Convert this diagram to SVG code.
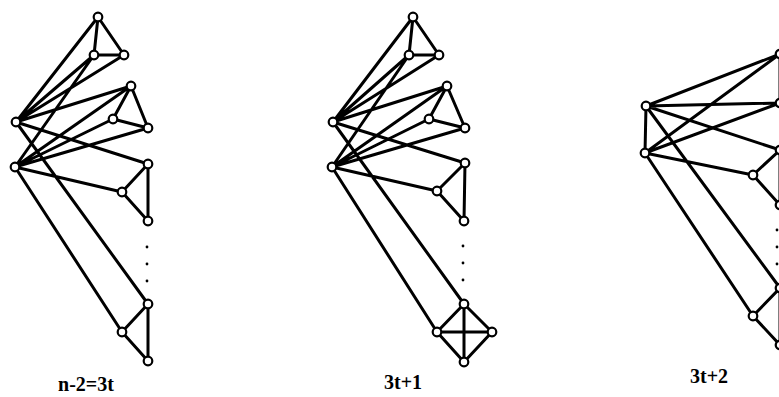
<svg xmlns="http://www.w3.org/2000/svg" width="779" height="397" viewBox="0 0 779 397">
<style>
.e{stroke:#000;stroke-width:3;fill:none;stroke-linecap:round}
.n{fill:#fff;stroke:#000;stroke-width:2.2}
.d{fill:#000}
.t{font-family:"Liberation Serif","Times New Roman",serif;font-size:20px;font-weight:bold;fill:#000;text-anchor:middle}
</style>
<rect width="779" height="397" fill="#fff"/>
<g id="connectors">
<path class="e" d="M98,17L94,55M98,17L124,55M94,55L124,55
M131,86L113,119M131,86L148,128M113,119L148,128
M148,164L122,192M148,164L148,221M122,192L148,221
M148,304L122,332M148,304L148,361M122,332L148,361
M16,122L98,17M16,122L94,55M16,122L124,55M16,122L131,86M16,122L148,164M16,122L148,304
M15,167L94,55M15,167L131,86M15,167L113,119M15,167L148,128M15,167L122,192M15,167L122,332"/>
<path class="e" d="M413,17L409,55M413,17L439,55M409,55L439,55
M447,86L429,119M447,86L465,128M429,119L465,128
M465,163L437,191M465,163L464,221M437,191L464,221
M464,304L437,332M464,304L492,332M464,304L464,362M437,332L492,332M437,332L464,362M492,332L464,362
M333,122L413,17M333,122L409,55M333,122L439,55M333,122L447,86M333,122L465,163M333,122L464,304
M332,167L409,55M332,167L447,86M332,167L429,119M332,167L465,128M332,167L437,191M332,167L437,332"/>
<path class="e" d="M646,106L645,153
M646,106L780,54M646,106L780,103M646,106L780,150M646,106L780,288
M645,153L780,54M645,153L780,103M645,153L753,175M645,153L753,316
M780,54L780,103M780,150L753,175M753,175L780,205M780,150L780,205
M780,288L753,316M753,316L780,345M780,288L780,345"/>
</g>
<g id="dots">
<circle class="d" cx="147" cy="247" r="1.4"/><circle class="d" cx="147" cy="264" r="1.4"/><circle class="d" cx="147" cy="281" r="1.4"/>
<circle class="d" cx="463" cy="246" r="1.4"/><circle class="d" cx="463" cy="263" r="1.4"/><circle class="d" cx="463" cy="280" r="1.4"/>
<circle class="d" cx="777" cy="230" r="1.4"/><circle class="d" cx="777" cy="247" r="1.4"/><circle class="d" cx="777" cy="264" r="1.4"/>
</g>
<g id="g1-nodes">
<circle id="g1-A" class="n" cx="98" cy="17" r="4.3"/>
<circle id="g1-B" class="n" cx="94" cy="55" r="4.3"/>
<circle id="g1-C" class="n" cx="124" cy="55" r="4.3"/>
<circle id="g1-D" class="n" cx="131" cy="86" r="4.3"/>
<circle id="g1-E" class="n" cx="113" cy="119" r="4.3"/>
<circle id="g1-F" class="n" cx="148" cy="128" r="4.3"/>
<circle id="g1-G" class="n" cx="148" cy="164" r="4.3"/>
<circle id="g1-H" class="n" cx="122" cy="192" r="4.3"/>
<circle id="g1-I" class="n" cx="148" cy="221" r="4.3"/>
<circle id="g1-J" class="n" cx="148" cy="304" r="4.3"/>
<circle id="g1-K" class="n" cx="122" cy="332" r="4.3"/>
<circle id="g1-M" class="n" cx="148" cy="361" r="4.3"/>
<circle id="g1-L1" class="n" cx="16" cy="122" r="4.3"/>
<circle id="g1-L2" class="n" cx="15" cy="167" r="4.3"/>
</g>
<g id="g2-nodes">
<circle id="g2-A" class="n" cx="413" cy="17" r="4.3"/>
<circle id="g2-B" class="n" cx="409" cy="55" r="4.3"/>
<circle id="g2-C" class="n" cx="439" cy="55" r="4.3"/>
<circle id="g2-D" class="n" cx="447" cy="86" r="4.3"/>
<circle id="g2-E" class="n" cx="429" cy="119" r="4.3"/>
<circle id="g2-F" class="n" cx="465" cy="128" r="4.3"/>
<circle id="g2-G" class="n" cx="465" cy="163" r="4.3"/>
<circle id="g2-H" class="n" cx="437" cy="191" r="4.3"/>
<circle id="g2-I" class="n" cx="464" cy="221" r="4.3"/>
<circle id="g2-J" class="n" cx="464" cy="304" r="4.3"/>
<circle id="g2-K" class="n" cx="437" cy="332" r="4.3"/>
<circle id="g2-N" class="n" cx="492" cy="332" r="4.3"/>
<circle id="g2-M" class="n" cx="464" cy="362" r="4.3"/>
<circle id="g2-L1" class="n" cx="333" cy="122" r="4.3"/>
<circle id="g2-L2" class="n" cx="332" cy="167" r="4.3"/>
</g>
<g id="g3-nodes">
<circle id="g3-L1" class="n" cx="646" cy="106" r="4.3"/>
<circle id="g3-L2" class="n" cx="645" cy="153" r="4.3"/>
<circle id="g3-R1" class="n" cx="780" cy="54" r="4.3"/>
<circle id="g3-R2" class="n" cx="780" cy="103" r="4.3"/>
<circle id="g3-R3" class="n" cx="780" cy="150" r="4.3"/>
<circle id="g3-P" class="n" cx="753" cy="175" r="4.3"/>
<circle id="g3-R4" class="n" cx="780" cy="205" r="4.3"/>
<circle id="g3-R5" class="n" cx="780" cy="288" r="4.3"/>
<circle id="g3-Q" class="n" cx="753" cy="316" r="4.3"/>
<circle id="g3-R6" class="n" cx="780" cy="345" r="4.3"/>
</g>
<g id="labels">
<text class="t" x="86" y="391">n-2=3t</text>
<text class="t" x="403" y="389">3t+1</text>
<text class="t" x="709" y="383">3t+2</text>
</g>
</svg>
